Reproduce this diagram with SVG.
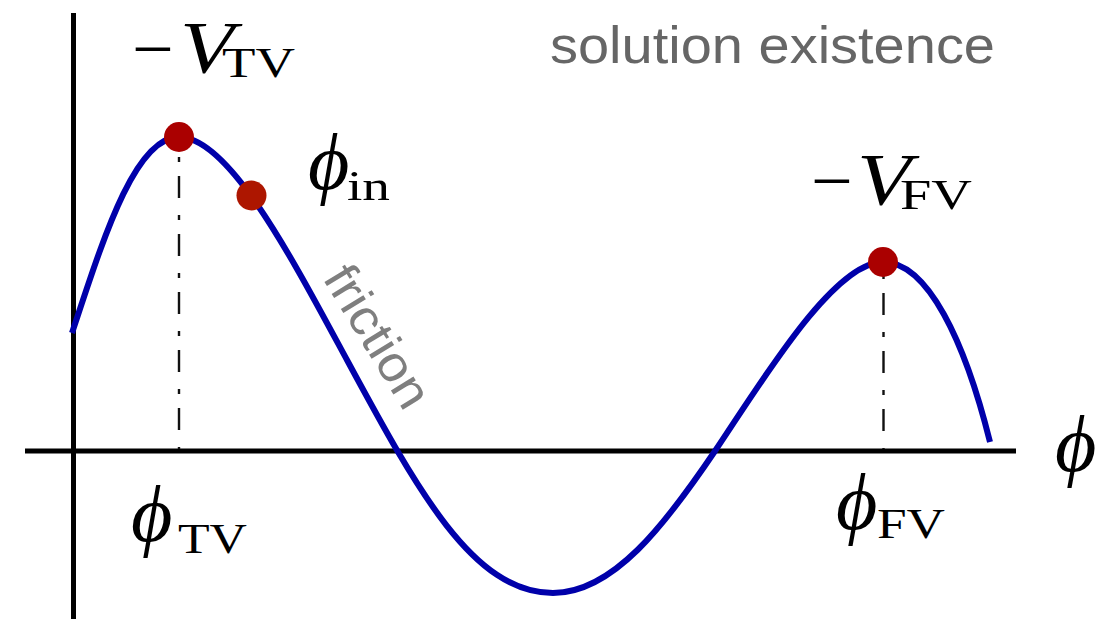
<svg xmlns="http://www.w3.org/2000/svg" width="1097" height="621" viewBox="0 0 1097 621">
<style>
.axis{stroke:#000;stroke-width:5;fill:none}
.curve{stroke:#0000aa;stroke-width:6;fill:none;stroke-linecap:butt}
.guide{stroke:#111;stroke-width:2.4;fill:none;stroke-dasharray:5 14 22 17}
.m{font-family:"Liberation Serif","DejaVu Serif",serif;fill:#000}
.mi{font-family:"Liberation Serif","DejaVu Serif",serif;font-style:italic;fill:#000}
.phi{font-family:"Liberation Serif","DejaVu Serif",serif;font-style:italic;fill:#000}
.note{font-family:"Liberation Sans",Arial,sans-serif;fill:#666}
</style>
<rect width="1097" height="621" fill="#fff"/>
<g id="axes">
<line class="axis" x1="73.5" y1="13" x2="73.5" y2="619"/>
<line class="axis" x1="25" y1="451" x2="1016" y2="451"/>
</g>
<g id="connectors">
<path id="potential" class="curve" d="M72,333 C102,243 134,137 179,137 C229,137 292,258.25 347,360 C417,489.5 473,593 553,593 C613,593 665,525 715,451 C760,384.4 833,262 883,262 C928,262 965,342 990,442"/>
<line class="guide" x1="179" y1="157" x2="179" y2="449"/>
<line class="guide" x1="883.5" y1="274" x2="883.5" y2="449"/>
</g>
<g id="node-tv">
<circle cx="179" cy="137" r="15" fill="#aa0000"/>
<text class="m" x="132" y="74" font-size="74">−</text>
<text class="mi" x="180" y="73" font-size="74" textLength="54" lengthAdjust="spacingAndGlyphs">V</text>
<text class="m" x="222" y="77" font-size="42" textLength="73" lengthAdjust="spacingAndGlyphs">TV</text>
</g>
<g id="node-in">
<circle cx="251.5" cy="195.5" r="15" fill="#ad1600"/>
<text class="phi" x="308" y="189" font-size="80">ϕ</text>
<text class="m" x="347" y="200" font-size="42" textLength="43" lengthAdjust="spacingAndGlyphs">in</text>
</g>
<g id="node-fv">
<circle cx="883" cy="262" r="15" fill="#aa0000"/>
<text class="m" x="811" y="206" font-size="74">−</text>
<text class="mi" x="857" y="205" font-size="74" textLength="54" lengthAdjust="spacingAndGlyphs">V</text>
<text class="m" x="900" y="209" font-size="42" textLength="72" lengthAdjust="spacingAndGlyphs">FV</text>
</g>
<g id="label-phi-tv">
<text class="phi" x="131" y="541" font-size="80">ϕ</text>
<text class="m" x="178" y="553" font-size="42" textLength="69" lengthAdjust="spacingAndGlyphs">TV</text>
</g>
<g id="label-phi-fv">
<text class="phi" x="836" y="529" font-size="80">ϕ</text>
<text class="m" x="877" y="538" font-size="42" textLength="68" lengthAdjust="spacingAndGlyphs">FV</text>
</g>
<g id="label-phi">
<text class="phi" x="1055" y="471" font-size="80">ϕ</text>
</g>
<g id="label-title">
<text class="note" x="550" y="63" font-size="52" textLength="445" lengthAdjust="spacingAndGlyphs">solution existence</text>
</g>
<g id="label-friction">
<text class="note" style="fill:#7f7f7f" font-size="50" transform="translate(322,278) rotate(58.5)" textLength="158" lengthAdjust="spacingAndGlyphs">friction</text>
</g>
</svg>
